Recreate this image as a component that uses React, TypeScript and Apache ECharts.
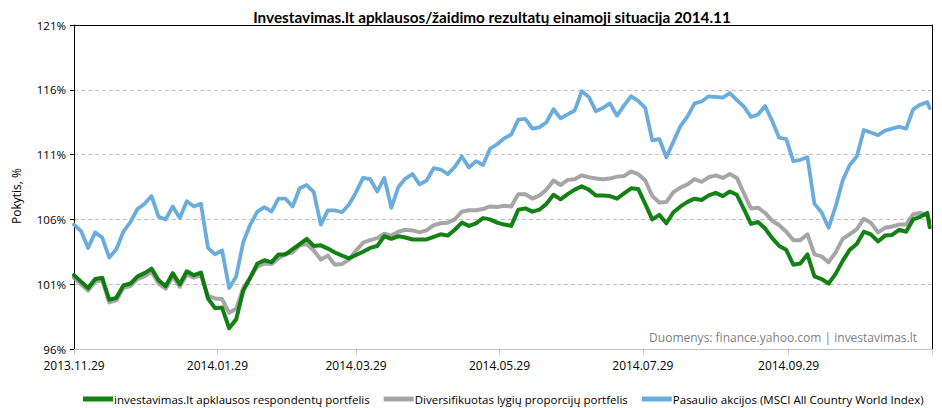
import React, { useEffect, useRef } from 'react';
import * as echarts from 'echarts';

const TITLE = 'Investavimas.lt apklausos/žaidimo rezultatų einamoji situacija 2014.11';
const Y_NAME = 'Pokytis, %';
const SOURCE_NOTE = 'Duomenys: finance.yahoo.com | investavimas.lt';
const SERIES_NAMES = [
  'investavimas.lt apklausos respondentų portfelis',
  'Diversifikuotas lygių proporcijų portfelis',
  'Pasaulio akcijos (MSCI All Country World Index)',
];
const AXIS_START = '2013.11.29';
const AXIS_END = '2014.11.29';
const xTickLabels = ['2013.11.29', '2014.01.29', '2014.03.29', '2014.05.29', '2014.07.29', '2014.09.29'];
const xTickMarks = [...xTickLabels, '2014.11.29'];
const yTicks = [96, 101, 106, 111, 116, 121];

const dates = [
  '2013.11.29', '2013.12.02', '2013.12.05', '2013.12.08', '2013.12.11', '2013.12.14', '2013.12.17', '2013.12.20',
  '2013.12.23', '2013.12.26', '2013.12.29', '2014.01.01', '2014.01.04', '2014.01.07', '2014.01.10', '2014.01.13',
  '2014.01.16', '2014.01.19', '2014.01.22', '2014.01.25', '2014.01.28', '2014.01.31', '2014.02.03', '2014.02.06',
  '2014.02.09', '2014.02.12', '2014.02.15', '2014.02.18', '2014.02.21', '2014.02.24', '2014.02.27', '2014.03.02',
  '2014.03.05', '2014.03.08', '2014.03.11', '2014.03.14', '2014.03.17', '2014.03.20', '2014.03.23', '2014.03.26',
  '2014.03.29', '2014.04.01', '2014.04.04', '2014.04.07', '2014.04.10', '2014.04.13', '2014.04.16', '2014.04.19',
  '2014.04.22', '2014.04.25', '2014.04.28', '2014.05.01', '2014.05.04', '2014.05.07', '2014.05.10', '2014.05.13',
  '2014.05.16', '2014.05.19', '2014.05.22', '2014.05.25', '2014.05.28', '2014.05.31', '2014.06.03', '2014.06.06',
  '2014.06.09', '2014.06.12', '2014.06.15', '2014.06.18', '2014.06.21', '2014.06.24', '2014.06.27', '2014.06.30',
  '2014.07.03', '2014.07.06', '2014.07.09', '2014.07.12', '2014.07.15', '2014.07.18', '2014.07.21', '2014.07.24',
  '2014.07.27', '2014.07.30', '2014.08.02', '2014.08.05', '2014.08.08', '2014.08.11', '2014.08.14', '2014.08.17',
  '2014.08.20', '2014.08.23', '2014.08.26', '2014.08.29', '2014.09.01', '2014.09.04', '2014.09.07', '2014.09.10',
  '2014.09.13', '2014.09.16', '2014.09.19', '2014.09.22', '2014.09.25', '2014.09.28', '2014.10.01', '2014.10.04',
  '2014.10.07', '2014.10.10', '2014.10.13', '2014.10.16', '2014.10.19', '2014.10.22', '2014.10.25', '2014.10.28',
  '2014.10.31', '2014.11.03', '2014.11.06', '2014.11.09', '2014.11.12', '2014.11.15', '2014.11.18', '2014.11.21',
  '2014.11.24', '2014.11.27', '2014.11.28',
];

const respondentai = [
  101.7, 101.2, 100.7, 101.4, 101.5, 99.8, 99.95, 100.9,
  101.05, 101.6, 101.85, 102.2, 101.3, 100.85, 101.85, 101.0,
  102.0, 101.7, 101.9, 99.9, 99.15, 99.2, 97.6, 98.3,
  100.5, 101.5, 102.6, 102.85, 102.7, 103.3, 103.3, 103.7,
  104.1, 104.5, 103.95, 104.0, 103.75, 103.45, 103.2, 103.0,
  103.25, 103.5, 103.8, 103.95, 104.7, 104.5, 104.7, 104.6,
  104.45, 104.45, 104.45, 104.65, 104.85, 104.75, 105.2, 105.75,
  105.5, 105.7, 106.1, 106.0, 105.75, 105.6, 105.5, 106.75,
  106.85, 106.6, 106.75, 107.2, 107.9, 107.55, 107.95, 108.3,
  108.55, 108.3, 107.85, 107.85, 107.8, 107.6, 108.0, 108.4,
  108.35, 107.2, 106.0, 106.35, 105.7, 106.55, 107.0, 107.35,
  107.6, 107.5, 107.85, 108.05, 107.8, 108.15, 107.9, 106.8,
  105.65, 105.8, 105.3, 104.55, 103.95, 103.65, 102.5, 102.6,
  103.3, 101.6, 101.4, 101.05, 101.8, 102.8, 103.65, 104.1,
  105.05, 104.85, 104.3, 104.75, 104.8, 105.2, 105.05, 106.0,
  106.2, 106.5, 105.4,
];

const diversifikuotas = [
  101.5, 101.0, 100.5, 101.2, 101.3, 99.6, 99.75, 100.7,
  100.85, 101.4, 101.6, 101.95, 101.05, 100.65, 101.6, 100.8,
  101.75, 101.5, 101.7, 100.1, 99.9, 99.85, 98.8, 99.1,
  100.7, 101.55, 102.35, 102.6, 102.55, 103.0, 103.35, 103.45,
  104.0, 104.1, 103.6, 102.9, 103.2, 102.5, 102.55, 102.9,
  103.6, 104.2, 104.4, 104.55, 104.9, 104.75, 105.05, 105.2,
  105.15, 105.0, 105.15, 105.55, 105.7, 105.75, 106.0, 106.6,
  106.7, 106.7, 106.8, 107.0, 106.95, 107.05, 107.0, 107.95,
  107.95, 107.6, 107.85, 108.3, 109.0, 108.65, 109.05, 109.1,
  109.4, 109.25, 109.15, 109.1, 109.15, 109.3, 109.35, 109.7,
  109.5, 109.0, 107.8, 107.3, 107.35, 108.1, 108.45, 108.7,
  109.1, 108.9, 109.25, 109.4, 109.2, 109.5, 109.2, 108.0,
  106.85, 106.9, 106.5, 105.9, 105.55, 105.05, 104.4, 104.4,
  104.85, 103.3, 103.15, 102.7, 103.45, 104.5, 104.85, 105.25,
  106.05, 105.75, 105.0, 105.35, 105.45, 105.6, 105.6, 106.4,
  106.5, 106.3, 105.8,
];

const pasaulio = [
  105.6, 105.1, 103.8, 105.0, 104.6, 103.05, 103.7, 105.05,
  105.8, 106.8, 107.2, 107.8, 106.2, 106.0, 107.0, 106.1,
  107.4, 107.0, 107.2, 103.8, 103.3, 103.6, 100.7, 101.6,
  104.25, 105.6, 106.6, 106.95, 106.6, 107.6, 107.6, 107.0,
  108.4, 108.65, 108.1, 105.6, 106.7, 106.7, 106.55, 107.15,
  108.1, 109.2, 109.1, 108.15, 109.2, 106.9, 108.5, 109.15,
  109.5, 108.7, 109.0, 109.95, 109.85, 109.5, 110.05, 110.85,
  110.0, 110.5, 110.2, 111.45, 111.8, 112.25, 112.55, 113.7,
  113.75, 113.0, 113.1, 113.5, 114.5, 113.8, 114.1, 114.4,
  115.9, 115.45, 114.35, 114.6, 114.95, 114.0, 114.8, 115.5,
  115.15, 114.6, 112.1, 112.2, 110.8, 112.0, 113.2, 113.95,
  114.95, 115.1, 115.5, 115.45, 115.4, 115.75, 115.2, 114.7,
  113.9, 114.1, 114.75, 113.6, 112.3, 112.2, 110.5, 110.6,
  110.8, 107.2, 106.55, 105.35, 107.0, 109.0, 110.2, 110.85,
  112.9, 112.7, 112.5, 112.85, 113.0, 113.15, 113.0, 114.5,
  114.85, 115.05, 114.6,
];

const COLORS = {
  green: 'rgba(0, 118, 0, 0.92)',
  gray: 'rgba(150, 150, 150, 0.85)',
  blue: '#6aaddd',
};

const FONT = "'Open Sans', 'Noto Sans', sans-serif";

function buildCategories(start: string, end: string): string[] {
  const parse = (s: string) => {
    const [y, m, d] = s.split('.').map(Number);
    return Date.UTC(y, m - 1, d);
  };
  const pad = (n: number) => String(n).padStart(2, '0');
  const out: string[] = [];
  for (let t = parse(start); t <= parse(end); t += 86400000) {
    const dt = new Date(t);
    out.push(`${dt.getUTCFullYear()}.${pad(dt.getUTCMonth() + 1)}.${pad(dt.getUTCDate())}`);
  }
  return out;
}

export default function App() {
  const ref = useRef<HTMLDivElement>(null);

  useEffect(() => {
    if (!ref.current) return;
    const chart = echarts.init(ref.current, undefined, { renderer: 'svg' });
    const categories = buildCategories(AXIS_START, AXIS_END);
    const pairs = (vals: number[]) => dates.map((d, i) => [d, vals[i]]);

    const lineSeries = (name: string, vals: number[], color: string, width: number, z: number) => ({
      name,
      type: 'line',
      data: pairs(vals),
      showSymbol: false,
      symbol: 'none',
      connectNulls: true,
      z,
      lineStyle: { width, color, join: 'round', cap: 'round' },
      itemStyle: { color },
      emphasis: { disabled: true },
    });

    chart.setOption({
      animation: false,
      backgroundColor: '#ffffff',
      title: {
        text: TITLE,
        left: 487,
        top: 4,
        textAlign: 'center',
        textStyle: { fontFamily: 'Lato', fontWeight: 'bold', fontSize: 15.3, color: '#000' },
      },
      grid: { left: 74, right: 10, top: 25, bottom: 59 },
      legend: {
        data: SERIES_NAMES,
        left: 78,
        top: 388,
        icon: 'rect',
        itemWidth: 30,
        itemHeight: 5,
        itemGap: 14,
        textStyle: { fontFamily: FONT, fontSize: 11.5, color: '#000', padding: [0, 0, 0, -4] },
      },
      xAxis: [
        {
          type: 'category',
          data: categories,
          boundaryGap: false,
          axisLine: { lineStyle: { color: '#bfbfbf', width: 1 } },
          axisTick: {
            show: true,
            length: 5,
            interval: (_i: number, v: string) => xTickMarks.includes(v),
            lineStyle: { color: '#bfbfbf' },
          },
          axisLabel: {
            interval: (_i: number, v: string) => xTickLabels.includes(v),
            margin: 10,
            fontFamily: FONT,
            fontSize: 12,
            color: '#000',
          },
          splitLine: { show: false },
        },
        {
          type: 'category',
          data: categories,
          position: 'top',
          boundaryGap: false,
          axisLine: { lineStyle: { color: '#000', width: 1 } },
          axisTick: { show: false },
          axisLabel: { show: false },
          splitLine: { show: false },
        },
      ],
      yAxis: [
        {
          type: 'value',
          min: 96,
          max: 121,
          interval: 5,
          axisLine: { show: true, lineStyle: { color: '#000', width: 1 } },
          axisTick: { show: true, length: 4, inside: false, customValues: yTicks, lineStyle: { color: '#000' } },
          axisLabel: {
            customValues: yTicks,
            formatter: (v: number) => `${v}%`,
            margin: 8,
            fontFamily: FONT,
            fontSize: 11.5,
            color: '#000',
          },
          splitLine: { show: true, lineStyle: { color: '#c0c0c0', type: [4, 3], width: 1 } },
        },
        {
          type: 'value',
          min: 96,
          max: 121,
          position: 'right',
          axisLine: { show: true, lineStyle: { color: '#000', width: 1 } },
          axisTick: { show: false },
          axisLabel: { show: false },
          splitLine: { show: false },
        },
      ],
      series: [
        lineSeries(SERIES_NAMES[0], respondentai, COLORS.green, 4, 4),
        lineSeries(SERIES_NAMES[1], diversifikuotas, COLORS.gray, 4, 3),
        lineSeries(SERIES_NAMES[2], pasaulio, COLORS.blue, 3.8, 5),
      ],
      graphic: [
        {
          type: 'text',
          x: 16,
          y: 196,
          rotation: Math.PI / 2,
          style: {
            text: Y_NAME,
            x: 0,
            y: 0,
            textAlign: 'center',
            textVerticalAlign: 'middle',
            fontFamily: FONT,
            fontSize: 12,
            fill: '#000',
          },
        },
        {
          type: 'text',
          right: 25,
          top: 331,
          style: {
            text: SOURCE_NOTE,
            fontFamily: FONT,
            fontSize: 12,
            fill: '#808080',
          },
        },
      ],
    });

    return () => chart.dispose();
  }, []);

  return (
    <div
      ref={ref}
      style={{ position: 'fixed', left: 0, top: 0, width: 942, height: 408, background: '#fff' }}
    />
  );
}
